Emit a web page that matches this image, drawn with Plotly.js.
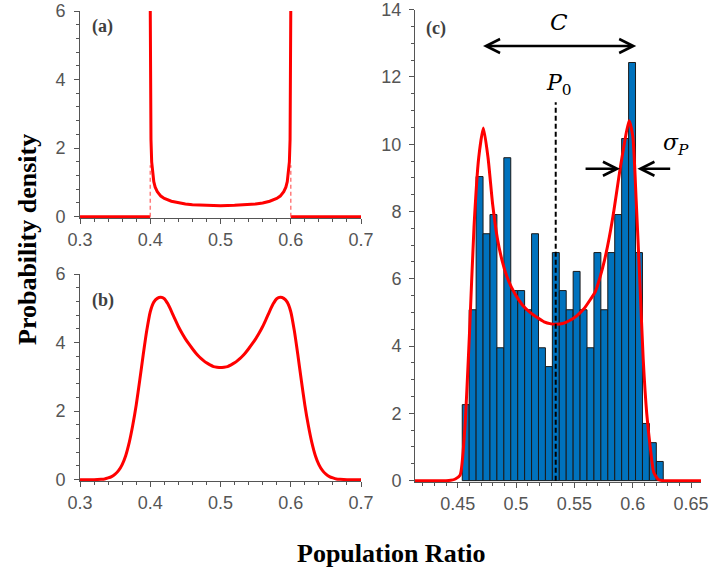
<!DOCTYPE html>
<html>
<head>
<meta charset="utf-8">
<script src="https://cdn.plot.ly/plotly-3.0.1.min.js"></script>
<style>html,body{margin:0;padding:0;background:#fff;}#chart{width:710px;height:574px;}</style>
</head>
<body>
<div id="chart"></div>
<script>
// ---------- Panel (a): ideal distribution ----------
const aCurveX = [0.4000, 0.4002, 0.4005, 0.4010, 0.4020, 0.4030, 0.4050, 0.4070, 0.4100, 0.4150, 0.4200, 0.4300, 0.4400, 0.4500, 0.4600, 0.4800, 0.5000,
                 0.5200, 0.5400, 0.5500, 0.5600, 0.5700, 0.5800, 0.5850, 0.5900, 0.5930, 0.5950, 0.5970, 0.5980, 0.5990, 0.5995, 0.5998, 0.6000];
const aCurveY = [6.00, 5.00, 3.20, 2.25, 1.60, 1.31, 1.02, 0.86, 0.73, 0.60, 0.53, 0.45, 0.40, 0.37, 0.35, 0.33, 0.32,
                 0.33, 0.35, 0.37, 0.40, 0.45, 0.53, 0.60, 0.73, 0.86, 1.02, 1.31, 1.60, 2.25, 3.20, 5.00, 6.00];
const aBaseX = [0.30, 0.40, null, 0.60, 0.70];
const aBaseY = [0, 0, null, 0, 0];
const aEdgeX = [0.40, 0.60];
const aEdgeTop = 1.5;

// ---------- Panel (b): broadened distribution ----------
const bX = [0.300, 0.320, 0.330, 0.335, 0.340, 0.345, 0.350, 0.355, 0.360, 0.365, 0.370, 0.375, 0.380, 0.385, 0.390, 0.395, 0.400,
            0.405, 0.410, 0.415, 0.420, 0.425, 0.430, 0.435, 0.440, 0.445, 0.450, 0.455, 0.460, 0.465, 0.470, 0.475, 0.480,
            0.485, 0.490, 0.495, 0.500, 0.505, 0.510, 0.515, 0.520, 0.525, 0.530, 0.535, 0.540, 0.545, 0.550, 0.555, 0.560,
            0.565, 0.570, 0.575, 0.580, 0.585, 0.590, 0.595, 0.600, 0.605, 0.610, 0.615, 0.620, 0.625, 0.630, 0.635, 0.640,
            0.645, 0.650, 0.655, 0.660, 0.665, 0.670, 0.680, 0.700];
const bY = [0, 0, 0.01, 0.02, 0.05, 0.09, 0.16, 0.27, 0.44, 0.70, 1.08, 1.58, 2.18, 2.90, 3.65, 4.35, 4.90,
            5.18, 5.29, 5.32, 5.28, 5.13, 4.92, 4.69, 4.47, 4.28, 4.11, 3.96, 3.82, 3.69, 3.58, 3.49, 3.41,
            3.35, 3.30, 3.28, 3.27, 3.28, 3.30, 3.35, 3.41, 3.49, 3.58, 3.69, 3.82, 3.96, 4.11, 4.28, 4.47,
            4.69, 4.92, 5.13, 5.28, 5.32, 5.29, 5.18, 4.90, 4.35, 3.65, 2.90, 2.18, 1.58, 1.08, 0.70, 0.44,
            0.27, 0.16, 0.09, 0.05, 0.02, 0.01, 0, 0];

// ---------- Panel (c): histogram + fit ----------
const histStart = 0.4539;
const histWidth = 0.00594;
const histDensity = [2.26, 5.08, 9.04, 7.34, 7.91, 3.95, 9.60, 5.65, 5.65, 5.08, 7.34, 3.95, 3.39, 6.78, 5.65,
                     5.08, 6.22, 5.08, 3.95, 6.78, 5.08, 6.78, 7.91, 10.17, 12.43, 6.78, 1.70, 1.13, 0.57];
const cFitX = [0.4134, 0.440, 0.444, 0.448, 0.452, 0.456, 0.460, 0.464, 0.468, 0.472, 0.476, 0.480, 0.484, 0.488, 0.492, 0.496, 0.500,
               0.506, 0.512, 0.518, 0.524, 0.530, 0.534, 0.540, 0.546, 0.552, 0.558, 0.564, 0.568, 0.572, 0.576, 0.580, 0.584,
               0.588, 0.592, 0.5968, 0.600, 0.603, 0.606, 0.609, 0.612, 0.615, 0.618, 0.622, 0.626, 0.6585];
const cFitY = [0, 0, 0.01, 0.05, 0.16, 1.50, 4.30, 7.56, 9.60, 10.48, 9.60, 8.20, 7.20, 6.55, 6.08, 5.75, 5.50,
               5.20, 5.00, 4.85, 4.72, 4.66, 4.65, 4.67, 4.76, 4.90, 5.10, 5.40, 5.62, 6.05, 6.58, 7.25, 8.06,
               9.00, 9.85, 10.70, 10.25, 8.30, 6.00, 3.60, 2.00, 1.00, 0.25, 0.03, 0, 0];
const p0 = 0.534;
const p0Top = 11.25;
const cArrow = [0.4704, 0.6030, 12.92];          // left x, right x, y
const sigmaArrowL = [0.5583, 0.5891, 9.27];       // tail x, head x, y
const sigmaArrowR = [0.6334, 0.6040, 9.27];       // tail x, head x, y

const RED = '#ff0000';
const traces = [];

// (a)
traces.push({x: aBaseX, y: aBaseY, xaxis: 'x', yaxis: 'y', mode: 'lines', line: {color: RED, width: 3}, hoverinfo: 'skip'});
aEdgeX.forEach(ex => traces.push({x: [ex, ex], y: [0, aEdgeTop], xaxis: 'x', yaxis: 'y', mode: 'lines',
  line: {color: 'rgba(255,80,80,0.75)', width: 1.5, dash: '4px,3px'}, hoverinfo: 'skip'}));
traces.push({x: aCurveX, y: aCurveY, xaxis: 'x', yaxis: 'y', mode: 'lines', line: {color: RED, width: 3}, hoverinfo: 'skip'});

// (b)
traces.push({x: bX, y: bY, xaxis: 'x2', yaxis: 'y2', mode: 'lines', line: {color: RED, width: 3, shape: 'spline', smoothing: 0.6}, hoverinfo: 'skip'});

// (c)
const histCenters = histDensity.map((_, i) => histStart + (i + 0.5) * histWidth);
traces.push({type: 'bar', x: histCenters, y: histDensity, width: histWidth, xaxis: 'x3', yaxis: 'y3',
  marker: {color: '#0072bd', line: {color: '#1a1a1a', width: 1}}, hoverinfo: 'skip'});
traces.push({x: cFitX, y: cFitY, xaxis: 'x3', yaxis: 'y3', mode: 'lines', line: {color: RED, width: 3, shape: 'spline', smoothing: 0.6}, hoverinfo: 'skip'});
traces.push({x: [p0, p0], y: [0, p0Top], xaxis: 'x3', yaxis: 'y3', mode: 'lines', line: {color: '#000', width: 2, dash: '5px,3px'}, hoverinfo: 'skip'});

const GRAY = '#555555';
const tickFont = {family: 'Liberation Sans, Arial, sans-serif', size: 18, color: '#555555'};
function ax(extra) {
  return Object.assign({
    showline: true, linecolor: GRAY, linewidth: 1, showgrid: false, zeroline: false, ticklabeloverflow: 'allow',
    ticks: 'outside', ticklen: 5, tickwidth: 1, tickcolor: GRAY, tickfont: tickFont, fixedrange: true
  }, extra);
}
const serif = 'Liberation Serif, Times New Roman, serif';
const math = 'DejaVu Serif, Liberation Serif, serif';
function note(x, y, text, size, color, extra) {
  return Object.assign({xref: 'paper', yref: 'paper', x: x / 710, y: 1 - y / 574, xanchor: 'center', yanchor: 'middle',
    text: text, showarrow: false, font: {family: serif, size: size, color: color}}, extra || {});
}

const layout = {
  width: 710, height: 574, margin: {l: 0, r: 0, t: 0, b: 0},
  paper_bgcolor: '#fff', plot_bgcolor: '#fff', showlegend: false, bargap: 0,
  xaxis: ax({domain: [0.1127, 0.5085], range: [0.3, 0.7], anchor: 'y', tick0: 0.3, dtick: 0.1, tickformat: '.1f',
             minor: {dtick: 0.02, ticks: 'outside', ticklen: 3, tickcolor: GRAY}}),
  yaxis: ax({domain: [0.6202, 0.9808], range: [-0.04, 6.001], anchor: 'x', tick0: 0, dtick: 2, ticklabelstandoff: 5,
             minor: {dtick: 0.4, ticks: 'outside', ticklen: 3, tickcolor: GRAY}}),
  xaxis2: ax({domain: [0.1127, 0.5085], range: [0.3, 0.7], anchor: 'y2', tick0: 0.3, dtick: 0.1, tickformat: '.1f',
             minor: {dtick: 0.02, ticks: 'outside', ticklen: 3, tickcolor: GRAY}}),
  yaxis2: ax({domain: [0.1620, 0.5226], range: [-0.04, 6.001], anchor: 'x2', tick0: 0, dtick: 2, ticklabelstandoff: 5,
             minor: {dtick: 0.4, ticks: 'outside', ticklen: 3, tickcolor: GRAY}}),
  xaxis3: ax({domain: [0.5845, 0.9873], range: [0.4134, 0.6585], anchor: 'y3', tick0: 0.45, dtick: 0.05,
             minor: {dtick: 0.01, ticks: 'outside', ticklen: 3, tickcolor: GRAY}}),
  yaxis3: ax({domain: [0.1603, 0.9834], range: [-0.04, 14.005], anchor: 'x3', tick0: 0, dtick: 2, ticklabelstandoff: 4,
             minor: {dtick: 0.5, ticks: 'outside', ticklen: 3, tickcolor: GRAY}}),
  annotations: [
    note(102, 27, '<b>(a)</b>', 18, '#404040'),
    note(103, 300, '<b>(b)</b>', 18, '#404040'),
    note(436, 28, '<b>(c)</b>', 18, '#404040'),
    note(27, 240, '<b>Probability density</b>', 26, '#000', {textangle: -90}),
    note(391, 553, '<b>Population Ratio</b>', 26, '#000'),
    // C arrow
    {xref: 'x3', yref: 'y3', axref: 'x3', ayref: 'y3', x: cArrow[1], y: cArrow[2], ax: cArrow[0], ay: cArrow[2], text: '',
     showarrow: true, arrowside: 'end+start', arrowhead: 5, startarrowhead: 5, arrowsize: 1.1, startarrowsize: 1.1, arrowwidth: 2.5, arrowcolor: '#000', standoff: 0, startstandoff: 0},
    {xref: 'x3', yref: 'y3', x: (cArrow[0] + cArrow[1]) / 2, y: 13.62, xanchor: 'center', yanchor: 'middle', text: '<i>C</i>', showarrow: false,
     font: {family: math, size: 23, color: '#000'}},
    {xref: 'x3', yref: 'y3', x: p0 + 0.003, y: 11.78, xanchor: 'center', yanchor: 'middle', text: '<i>P</i><sub>0</sub>', showarrow: false,
     font: {family: math, size: 22, color: '#000'}},
    // sigma arrows
    {xref: 'x3', yref: 'y3', axref: 'x3', ayref: 'y3', x: sigmaArrowL[1], y: sigmaArrowL[2], ax: sigmaArrowL[0], ay: sigmaArrowL[2], text: '',
     showarrow: true, arrowhead: 5, arrowsize: 1.1, arrowwidth: 2.5, arrowcolor: '#000', standoff: 0},
    {xref: 'x3', yref: 'y3', axref: 'x3', ayref: 'y3', x: sigmaArrowR[1], y: sigmaArrowR[2], ax: sigmaArrowR[0], ay: sigmaArrowR[2], text: '',
     showarrow: true, arrowhead: 5, arrowsize: 1.1, arrowwidth: 2.5, arrowcolor: '#000', standoff: 0},
    {xref: 'x3', yref: 'y3', x: 0.637, y: 10.0, xanchor: 'center', yanchor: 'middle', text: '<i>σ<sub>P</sub></i>', showarrow: false,
     font: {family: math, size: 22, color: '#000'}}
  ]
};

Plotly.newPlot('chart', traces, layout, {staticPlot: true, displayModeBar: false});
</script>
</body>
</html>
